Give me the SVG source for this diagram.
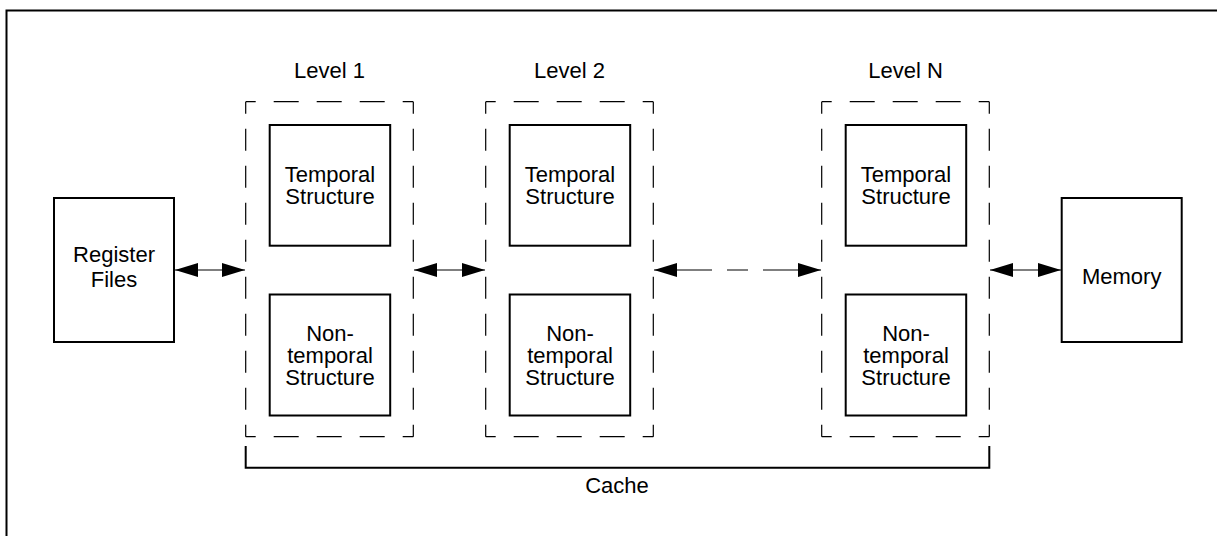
<svg xmlns="http://www.w3.org/2000/svg" width="1217" height="536" viewBox="0 0 1217 536">
  <style>
    .frame { fill: none; stroke: #000; stroke-width: 2; }
    .box { fill: #fff; stroke: #000; stroke-width: 2; }
    .dh { fill: none; stroke: #000; stroke-width: 1.2; stroke-dasharray: 25 18; stroke-dashoffset: 15; }
    .dv { fill: none; stroke: #000; stroke-width: 1.2; stroke-dasharray: 22 15; stroke-dashoffset: 10; }
    .link { fill: none; stroke: #000; stroke-width: 1.2; marker-start: url(#head); marker-end: url(#head); }
    .bracket { fill: none; stroke: #000; stroke-width: 2; }
    text { font-family: "Liberation Sans", Arial, Helvetica, sans-serif; font-size: 22px; fill: #000; text-anchor: middle; }
  </style>
  <defs>
    <marker id="head" markerUnits="userSpaceOnUse" markerWidth="24" markerHeight="14" refX="23" refY="7" orient="auto-start-reverse" viewBox="0 0 24 14">
      <path d="M0,0 L23,7 L0,14 Z" fill="#000"/>
    </marker>
    <!-- dashed outline of one cache level, 167.6 x 335 -->
    <g id="levelOutline">
      <line class="dh" x1="0" y1="0" x2="167.6" y2="0"/>
      <line class="dh" x1="0" y1="335" x2="167.6" y2="335"/>
      <line class="dv" x1="0" y1="0" x2="0" y2="335"/>
      <line class="dv" x1="167.6" y1="0" x2="167.6" y2="335"/>
    </g>
  </defs>

  <rect width="1217" height="536" fill="#fff"/>

  <!-- outer frame (top and left edges fall inside the page) -->
  <path class="frame" d="M1218,10.5 H6.5 V537"/>

  <g id="register-files">
    <rect class="box" x="54" y="198" width="120" height="144"/>
    <text x="114" y="262.3">Register</text>
    <text x="114" y="286.5">Files</text>
  </g>

  <g id="level-1">
    <text x="329.5" y="78.3">Level 1</text>
    <use href="#levelOutline" x="245.7" y="101.7"/>
    <g id="level-1-temporal">
      <rect class="box" x="269.7" y="125" width="120.5" height="120.7"/>
      <text x="330" y="182">Temporal</text>
      <text x="330" y="204">Structure</text>
    </g>
    <g id="level-1-nontemporal">
      <rect class="box" x="269.7" y="294.5" width="120.5" height="121"/>
      <text x="330" y="340.5">Non-</text>
      <text x="330" y="362.5">temporal</text>
      <text x="330" y="384.5">Structure</text>
    </g>
  </g>

  <g id="level-2">
    <text x="569.5" y="78.3">Level 2</text>
    <use href="#levelOutline" x="485.7" y="101.7"/>
    <g id="level-2-temporal">
      <rect class="box" x="509.7" y="125" width="120.5" height="120.7"/>
      <text x="570" y="182">Temporal</text>
      <text x="570" y="204">Structure</text>
    </g>
    <g id="level-2-nontemporal">
      <rect class="box" x="509.7" y="294.5" width="120.5" height="121"/>
      <text x="570" y="340.5">Non-</text>
      <text x="570" y="362.5">temporal</text>
      <text x="570" y="384.5">Structure</text>
    </g>
  </g>

  <g id="level-n">
    <text x="905.5" y="78.3">Level N</text>
    <use href="#levelOutline" x="821.7" y="101.7"/>
    <g id="level-n-temporal">
      <rect class="box" x="845.7" y="125" width="120.5" height="120.7"/>
      <text x="906" y="182">Temporal</text>
      <text x="906" y="204">Structure</text>
    </g>
    <g id="level-n-nontemporal">
      <rect class="box" x="845.7" y="294.5" width="120.5" height="121"/>
      <text x="906" y="340.5">Non-</text>
      <text x="906" y="362.5">temporal</text>
      <text x="906" y="384.5">Structure</text>
    </g>
  </g>

  <g id="memory">
    <rect class="box" x="1061.7" y="198" width="120" height="144"/>
    <text x="1121.7" y="284.3">Memory</text>
  </g>

  <g id="cache">
    <path class="bracket" d="M245.7,446 V467.7 H989.3 V446"/>
    <text x="617" y="493.3">Cache</text>
  </g>

  <g id="connectors">
    <line class="link" x1="175" y1="270" x2="245" y2="270"/>
    <line class="link" x1="414" y1="270" x2="485" y2="270"/>
    <line class="link" x1="654" y1="270" x2="821" y2="270" stroke-dasharray="58 15 21 15 58"/>
    <line class="link" x1="990" y1="270" x2="1061" y2="270"/>
  </g>
</svg>
